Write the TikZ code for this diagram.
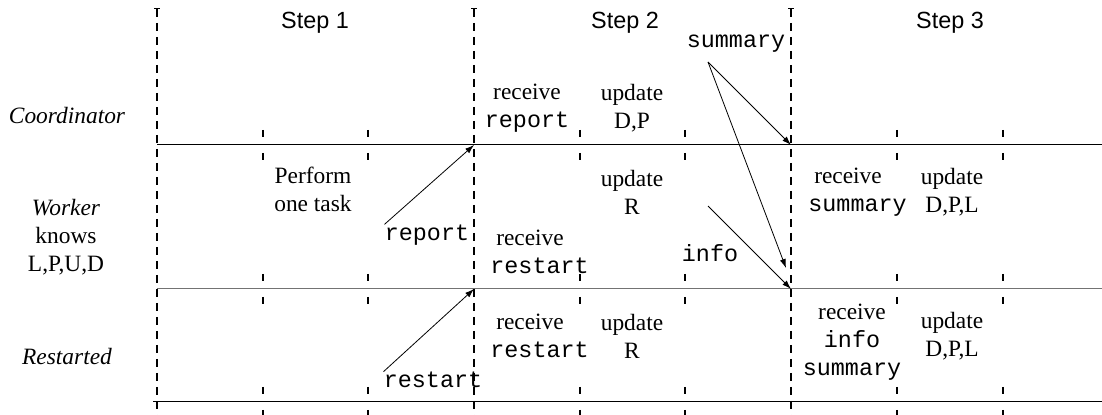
\documentclass[tikz,border=0pt]{standalone}
\usepackage{fontspec}
\setmainfont{Liberation Serif}
\setsansfont{Liberation Sans}
\setmonofont{Liberation Mono}
\usetikzlibrary{arrows.meta}

\begin{document}
\begin{tikzpicture}[x=0.5pt,y=-0.5pt,
	every node/.style={inner sep=0pt, align=center, font=\fontsize{11.7}{14}\selectfont},
	phase/.style={font=\fontsize{11.7}{14}\selectfont\sffamily},
	role/.style={font=\fontsize{11.7}{13.5}\selectfont\itshape},
	major/.style={dash pattern=on 4pt off 3pt, line width=0.7pt},
	tick/.style={line width=0.6pt},
	msg/.style={-{Latex[length=4.5pt,width=3pt]}, line width=0.4pt}]
	\useasboundingbox (0,0) rectangle (1102,415);
	% grid points
	\coordinate (c2) at (474,145);
	\coordinate (c3) at (791,145);
	\coordinate (w2) at (474,289);
	\coordinate (w3) at (791,289);
	\coordinate (w3a) at (786,268);
	\coordinate (sumtail) at (708,62);
	\coordinate (infotail) at (708,206);
	% time lines
	\draw[line width=0.5pt] (157,145) -- (1102,145);
	\draw[line width=0.5pt, black!55] (157,289) -- (1102,289);
	\draw[line width=0.5pt] (153,402) -- (1102,402);
	\foreach \x in {157,474,791} {
		\draw[major] (\x,9) -- (\x,415);
		\draw[line width=0.5pt] (\x-3,9) -- (\x+3,9);
	}
	\foreach \x in {263,368,580,685,897,1003}
		\foreach \y in {145,289,402}
			\draw[tick] (\x,\y-15) -- (\x,\y-8) (\x,\y+8) -- (\x,\y+15);
	% steps
	\node[phase] (s1) at (315,23) {Step 1};
	\node[phase] (s2) at (625,23) {Step 2};
	\node[phase] (s3) at (950,23) {Step 3};
	% roles
	\node[role] (coord) at (67,116) {Coordinator};
	\node (work) at (66,237) {\textit{Worker}\\knows\\L,P,U,D};
	\node[role] (rest) at (67,357) {Restarted};
	% step 1
	\node (task) at (313,189) {Perform\\one task};
	\node (rep) at (427,235) {\texttt{report}};
	\node (rst) at (433,380) {\texttt{restart}};
	% step 2
	\node (crcv) at (527,108) {receive\\\texttt{report}};
	\node (cupd) at (632,108) {update\\D,P};
	\node (sum) at (736,44) {\texttt{summary}};
	\node (wupd) at (632,192) {update\\R};
	\node[anchor=west, align=left] (wrcv) at (490,252) {\ receive\\\texttt{restart}};
	\node (info) at (710,253) {\texttt{info}};
	\node[anchor=west, align=left] (rrcv) at (490,336) {\ receive\\\texttt{restart}};
	\node (rupd) at (632,336) {update\\R};
	% step 3
	\node[anchor=west, align=left] (wsum) at (808,192) {\ receive\\\texttt{summary}};
	\node (wupd3) at (952,192) {update\\D,P,L};
	\node (rinfo) at (852,342) {receive\\\texttt{info}\\\texttt{summary}};
	\node (rupd3) at (952,336) {update\\D,P,L};
	% messages
	\draw[msg] (rep.north west) -- (c2);
	\draw[msg] (rst.north west) -- (w2);
	\draw[msg] (sumtail) -- (c3);
	\draw[msg] (sumtail) -- (w3a);
	\draw[msg] (infotail) -- (w3);
\end{tikzpicture}
\end{document}
